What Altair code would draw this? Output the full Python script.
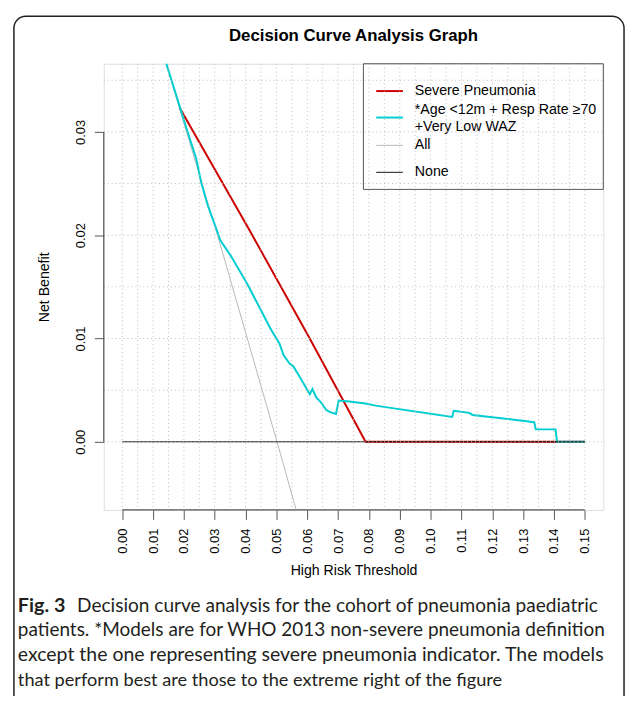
import altair as alt
import pandas as pd
import numpy as np

# ---------------- data ----------------
series_names = ["Severe Pneumonia", "*Age <12m + Resp Rate \u226570 +Very Low WAZ", "All", "None"]
legend_labels = ["Severe Pneumonia", "*Age <12m + Resp Rate \u226570\n+Very Low WAZ", "All", "None"]
series_colors = ["#CC0000", "#00CED1", "#B8B8B8", "#111111"]
series_widths = [2.0, 2.0, 1.0, 1.0]

severe_t = [0.0187, 0.0416, 0.0608, 0.0789, 0.1500]
severe_nb = [0.0323, 0.0203, 0.0100, 0.0000, 0.0000]

model_t = [0.0142, 0.0187, 0.0213, 0.0240, 0.0256, 0.0277, 0.0293, 0.0304, 0.0318,
           0.0352, 0.0405, 0.0480, 0.0510, 0.0523, 0.0542, 0.0555, 0.0581, 0.0608,
           0.0617, 0.0629, 0.0645, 0.0661, 0.0672, 0.0693, 0.0702, 0.0736, 0.0789,
           0.0821, 0.1070, 0.1075, 0.1125, 0.1136, 0.1336, 0.1341, 0.1405, 0.1410, 0.1500]
model_nb = [0.0367, 0.0324, 0.0299, 0.0274, 0.0251, 0.0229, 0.0216, 0.0207, 0.0195,
            0.0180, 0.0153, 0.0110, 0.0095, 0.0084, 0.0076, 0.0073, 0.0060, 0.0046,
            0.0051, 0.0043, 0.0038, 0.0031, 0.0029, 0.0027, 0.0040, 0.0039, 0.0037,
            0.0035, 0.0024, 0.0030, 0.0028, 0.0026, 0.0019, 0.0012, 0.0012, 0.0000, 0.0000]

all_t = [0.0142, 0.0309, 0.0502, 0.0563]
all_nb = [0.0366, 0.0200, 0.0000, -0.0065]

none_t = [0.00, 0.15]
none_nb = [0.0, 0.0]

x_ticks = [0.00, 0.01, 0.02, 0.03, 0.04, 0.05, 0.06, 0.07, 0.08, 0.09, 0.10, 0.11, 0.12, 0.13, 0.14, 0.15]
y_ticks = [0.00, 0.01, 0.02, 0.03]
x_grid = [round(v, 3) for v in np.arange(0, 0.1501, 0.005)]
y_grid = [round(v, 3) for v in np.arange(0, 0.0351, 0.005)]

TITLE = "Decision Curve Analysis Graph"
X_TITLE = "High Risk Threshold"
Y_TITLE = "Net Benefit"
caption_bold = "Fig. 3"
caption_lines = [
    "Decision curve analysis for the cohort of pneumonia paediatric",
    "patients. *Models are for WHO 2013 non-severe pneumonia definition",
    "except the one representing severe pneumonia indicator. The models",
    "that perform best are those to the extreme right of the figure",
]

# ---------------- layout / style ----------------
W, H = 506, 452
FONT = "Liberation Sans"
CAP_FONT = "Lato"
AX = "#555555"
GRID = "#bdbdbd"

xs = alt.Scale(domain=[-0.006, 0.156], nice=False, zero=False)
ys = alt.Scale(domain=[-0.0066, 0.0366], nice=False, zero=False)

x_axis = alt.Axis(values=x_ticks, format=".2f", labelAngle=270, labelAlign="right",
                  labelBaseline="middle", labelFontSize=13, labelFont=FONT, labelColor="black",
                  labelPadding=9, labelFlush=False, labelOverlap=False, tickSize=9.5,
                  tickColor=AX, tickWidth=1, domain=False, grid=False, title=X_TITLE,
                  titleFont=FONT, titleFontSize=14.3, titleFontWeight="normal", titleColor="black",
                  titleX=253, titleY=61, titleAlign="center", titleBaseline="middle")
y_axis = alt.Axis(values=y_ticks, format=".2f", labelAngle=270, labelAlign="center",
                  labelBaseline="alphabetic", labelFontSize=13, labelFont=FONT, labelColor="black",
                  labelPadding=10, labelFlush=False, labelOverlap=False, tickSize=9.5,
                  tickColor=AX, tickWidth=1, domain=False, grid=False, title=Y_TITLE,
                  titleFont=FONT, titleFontSize=14.3, titleFontWeight="normal", titleColor="black",
                  titleX=-60, titleY=226, titleAngle=270, titleAlign="center", titleBaseline="middle")


def X(field):
    return alt.X(field, scale=xs, axis=x_axis)


def Y(field):
    return alt.Y(field, scale=ys, axis=y_axis)


frames = []
for name, tt, vv in zip(series_names, [severe_t, model_t, all_t, none_t],
                        [severe_nb, model_nb, all_nb, none_nb]):
    frames.append(pd.DataFrame({"series": name, "t": tt, "nb": vv, "ord": range(len(tt))}))
df_lines = pd.concat(frames, ignore_index=True)

one = pd.DataFrame({"k": [0]})
layers = []

# outer figure frame
layers.append(alt.Chart(one).mark_rect(fill="transparent", stroke="#231f20", strokeWidth=1.5,
                                       cornerRadius=12)
              .encode(x=alt.value(-91), x2=alt.value(527), y=alt.value(-48), y2=alt.value(720)))

# title
layers.append(alt.Chart(one).mark_text(font=FONT, fontSize=17, fontWeight="bold", align="center",
                                       baseline="alphabetic", color="black")
              .encode(x=alt.value(253), y=alt.value(-23.5), text=alt.value(TITLE)))

# caption (justified in the original: per-line sizes approximate the justified widths)
cap_y0, cap_lh = 555, 25
cap_sizes = [19.3, 19.2, 19.7, 18.4]
layers.append(alt.Chart(one).mark_text(font=CAP_FONT, fontSize=20, fontWeight="bold", align="left",
                                       baseline="alphabetic", color="#231f20")
              .encode(x=alt.value(-87), y=alt.value(cap_y0), text=alt.value(caption_bold)))
for i, line in enumerate(caption_lines):
    layers.append(alt.Chart(one).mark_text(font=CAP_FONT, fontSize=cap_sizes[i], align="left",
                                           baseline="alphabetic", color="#231f20")
                  .encode(x=alt.value(-27 if i == 0 else -87), y=alt.value(cap_y0 + i * cap_lh),
                          text=alt.value(line)))

# curves: All, Severe, Model, None
for idx in [2, 0, 1, 3]:
    name = series_names[idx]
    layers.append(alt.Chart(df_lines[df_lines.series == name])
                  .mark_line(color=series_colors[idx], strokeWidth=series_widths[idx], clip=True)
                  .encode(x=X("t:Q"), y=Y("nb:Q"), order="ord:Q"))

# legend (box, symbols, labels)
leg_x0, leg_x1, leg_y1 = 263, 506, 127.3
sym_rows = [27.7, 54.5, 82.7, 110]
txt_rows = [27.7, 46.7, 82.7, 110]
layers.append(alt.Chart(one).mark_rect(fill="transparent", stroke=AX, strokeWidth=1)
              .encode(x=alt.value(leg_x0), x2=alt.value(leg_x1), y=alt.value(0), y2=alt.value(leg_y1)))
for lab, col, wd, sy, ty in zip(legend_labels, series_colors, series_widths, sym_rows, txt_rows):
    layers.append(alt.Chart(one).mark_rule(color=col, strokeWidth=wd)
                  .encode(x=alt.value(276), x2=alt.value(303), y=alt.value(sy)))
    layers.append(alt.Chart(one).mark_text(font=FONT, fontSize=14.4, align="left", baseline="middle",
                                           lineBreak="\n", lineHeight=17.6, color="black")
                  .encode(x=alt.value(315), y=alt.value(ty), text=alt.value(lab)))

# dotted grid (drawn over the curves, as in the original)
layers.append(alt.Chart(pd.DataFrame({"g": x_grid}))
              .mark_rule(color=GRID, strokeWidth=1, strokeDash=[1, 3])
              .encode(x=X("g:Q"), y=alt.value(0), y2=alt.value(H)))
layers.append(alt.Chart(pd.DataFrame({"g": y_grid}))
              .mark_rule(color=GRID, strokeWidth=1, strokeDash=[1, 3])
              .encode(y=Y("g:Q"), x=alt.value(0), x2=alt.value(W)))

# R-style axis lines spanning only the tick range
layers.append(alt.Chart(pd.DataFrame({"a": [x_ticks[0]], "b": [x_ticks[-1]]}))
              .mark_rule(color=AX, strokeWidth=1.2)
              .encode(x=X("a:Q"), x2="b:Q", y=alt.value(H)))
layers.append(alt.Chart(pd.DataFrame({"a": [y_ticks[0]], "b": [y_ticks[-1]]}))
              .mark_rule(color=AX, strokeWidth=1.2)
              .encode(y=Y("a:Q"), y2="b:Q", x=alt.value(0)))

chart = (alt.layer(*layers)
         .properties(width=W, height=H,
                     padding={"left": 97, "top": 52, "right": 23, "bottom": 184},
                     autosize=alt.AutoSizeParams(type="none"))
         .configure_view(stroke=None)
         .configure(background="white"))

chart.save("out.html", embed_options={"renderer": "svg", "actions": False})
